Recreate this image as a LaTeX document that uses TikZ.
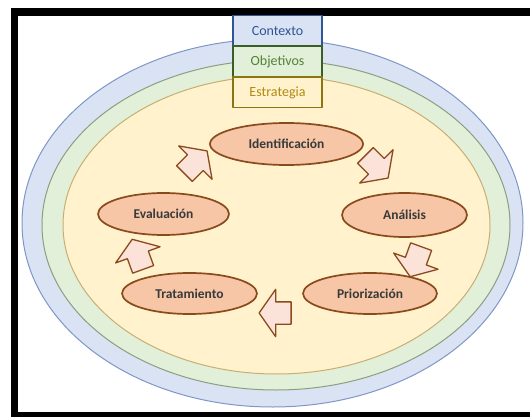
\documentclass[tikz,border=0pt]{standalone}
\usepackage{fontspec}
\setmainfont{Carlito}
\usetikzlibrary{shapes.geometric,shapes.arrows}

\definecolor{ctxfill}{HTML}{DAE3F3}
\definecolor{ctxline}{HTML}{2F5597}
\definecolor{ctxring}{HTML}{7F96C8}
\definecolor{objfill}{HTML}{E2F0D9}
\definecolor{objline}{HTML}{3B5E28}
\definecolor{objtext}{HTML}{548235}
\definecolor{objring}{HTML}{8C9E80}
\definecolor{estfill}{HTML}{FFF2CC}
\definecolor{estline}{HTML}{8C7410}
\definecolor{esttext}{HTML}{B08A10}
\definecolor{estring}{HTML}{C8AE72}
\definecolor{procfill}{HTML}{F6C6A6}
\definecolor{procline}{HTML}{8A4A1C}
\definecolor{arrfill}{HTML}{FBE3DA}
\definecolor{proctext}{HTML}{3A3A3A}

\tikzset{
  layerbox/.style={draw,line width=1.5pt,minimum width=89,minimum height=30.5,inner sep=0pt,font=\fontsize{14}{16}\selectfont},
  proc/.style={ellipse,draw=procline,fill=procfill,line width=1.7pt,inner sep=0pt,text=proctext,font=\fontsize{13.5}{16}\selectfont\bfseries},
  cyclearrow/.style={single arrow,draw=procline,fill=arrfill,line width=1.3pt,inner sep=10.5pt,minimum height=32,single arrow head extend=12.5pt,single arrow tip angle=110}
}

\begin{document}
\begin{tikzpicture}[line cap=round,line join=round,x=1pt,y=-1pt]
\useasboundingbox (0,0) rectangle (530,417);
% marco
\fill[black] (11,8) rectangle (530,16);
\fill[black] (11,8) rectangle (18,417);
\fill[black] (11,412) rectangle (530,417);
% anillos
\draw[fill=ctxfill,draw=ctxring,line width=1pt] (272.5,223) ellipse [x radius=250.5,y radius=184];
\draw[fill=objfill,draw=objring,line width=1pt] (276,225) ellipse [x radius=234,y radius=165];
\draw[fill=estfill,draw=estring,line width=1pt] (276.5,225) ellipse [x radius=213.5,y radius=149];
% cajas
\node[layerbox,fill=ctxfill,draw=ctxline,text=ctxline] (ctx) at (277.5,31) {Contexto};
\node[layerbox,fill=objfill,draw=objline,text=objtext] (obj) at (277.5,61.5) {Objetivos};
\node[layerbox,fill=estfill,draw=estline,text=esttext] (estr) at (277.5,92.5) {Estrategia};
% ciclo
\node[proc,minimum width=153,minimum height=42] (ident) at (286.5,144) {Identificación};
\node[proc,minimum width=125,minimum height=44] (anal) at (404.5,215) {Análisis};
\node[proc,minimum width=134,minimum height=41] (prior) at (370,293.5) {Priorización};
\node[proc,minimum width=135,minimum height=41] (trat) at (189.5,293.5) {Tratamiento};
\node[proc,minimum width=131,minimum height=42] (eval) at (163.5,214) {Evaluación};
\node[cyclearrow,rotate=45] (a1) at (193,165) {};
\node[cyclearrow,rotate=-45] (a2) at (374,164) {};
\node[cyclearrow,rotate=-110] (a3) at (417,258) {};
\node[cyclearrow,rotate=180] (a4) at (279,313) {};
\node[cyclearrow,rotate=110] (a5) at (139,258) {};
\end{tikzpicture}
\end{document}
